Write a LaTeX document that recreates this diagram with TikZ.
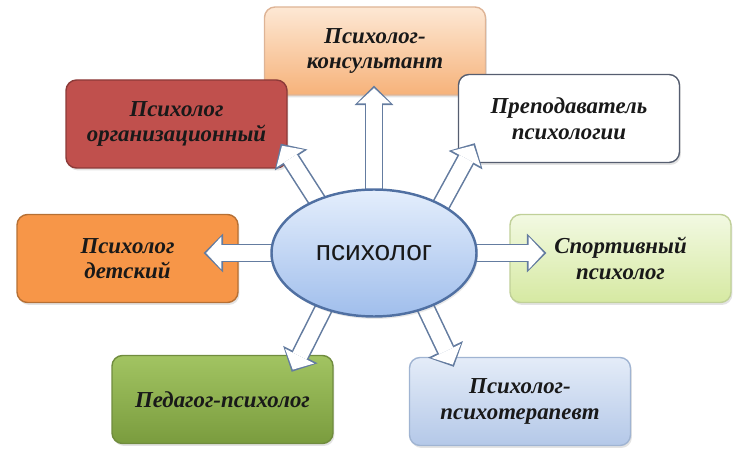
\documentclass[tikz,border=0pt]{standalone}
\usepackage{fontspec}
\setmainfont{Liberation Serif}
\newfontfamily\ellfont{Liberation Sans}
\usepackage{tikz}
\usetikzlibrary{shapes.geometric,arrows.meta,shadows,calc}

\definecolor{konsoben}{RGB}{253,232,212}
\definecolor{konsunten}{RGB}{246,178,122}
\definecolor{konsrand}{RGB}{222,180,150}
\definecolor{orgfill}{RGB}{192,80,77}
\definecolor{orgrand}{RGB}{140,58,56}
\definecolor{preprand}{RGB}{86,94,112}
\definecolor{detfill}{RGB}{247,150,72}
\definecolor{detrand}{RGB}{182,112,52}
\definecolor{sportoben}{RGB}{242,249,226}
\definecolor{sportunten}{RGB}{214,233,162}
\definecolor{sportrand}{RGB}{192,208,152}
\definecolor{pedoben}{RGB}{162,196,98}
\definecolor{pedunten}{RGB}{122,156,62}
\definecolor{pedrand}{RGB}{112,140,62}
\definecolor{thoben}{RGB}{228,236,248}
\definecolor{thunten}{RGB}{180,200,232}
\definecolor{thrand}{RGB}{160,180,210}
\definecolor{elloben}{RGB}{228,238,252}
\definecolor{ellunten}{RGB}{160,190,236}
\definecolor{ellrand}{RGB}{80,112,162}
\definecolor{pilrand}{RGB}{100,124,160}

\pgfdeclarelayer{front}
\pgfsetlayers{main,front}

\begin{document}
\begin{tikzpicture}[node distance=2cm]
    \tikzstyle{every node}=[font=\bfseries\itshape\fontsize{13}{14.5}\selectfont,align=center,text=black!90];
    \tikzstyle{box}=[rectangle,rounded corners=6pt,minimum width=4.42cm,minimum height=1.76cm,line width=0.8pt,
        drop shadow={opacity=0.22,shadow xshift=0.8pt,shadow yshift=-1.4pt}];
    \tikzstyle{pil}=[line width=8.8pt,draw=white,shorten <=-8pt,shorten >=1.4pt,
        -{Triangle[length=8.6pt,width=18.5pt,line width=0pt]},
        preaction={draw=pilrand,line width=10.6pt,shorten >=0pt,-{Triangle[length=11pt,width=22pt,line width=0pt]}}];

    \useasboundingbox (0,0) rectangle (15,9.06);

    \begin{pgfonlayer}{front}
    \node[ellipse,draw=ellrand,line width=1.4pt,top color=elloben,bottom color=ellunten,
          minimum width=4.1cm,minimum height=2.54cm,font=\ellfont\fontsize{16}{18}\selectfont,
          drop shadow={opacity=0.18,shadow xshift=0.8pt,shadow yshift=-1.4pt}] (psy) at (7.48,4.00) {психолог};
    \end{pgfonlayer}

    \node[box,draw=konsrand,top color=konsoben,bottom color=konsunten] (kons) [above of=psy,node distance=4.04cm,xshift=0.02cm] {Психолог-\\консультант};
    \node[box,draw=detrand,fill=detfill] (det) [left of=psy,node distance=4.93cm,yshift=-0.11cm] {Психолог\\детский};
    \node[box,draw=sportrand,top color=sportoben,bottom color=sportunten] (sport) [right of=psy,node distance=4.93cm,yshift=-0.11cm] {Спортивный\\психолог};
    \node[box,draw=orgrand,fill=orgfill] (org) [above of=det,node distance=2.69cm,xshift=0.98cm] {Психолог\\организационный};
    \node[box,draw=preprand,fill=white] (prep) [above of=sport,node distance=2.80cm,xshift=-1.03cm] {Преподаватель\\психологии};
    \node[box,draw=pedrand,top color=pedoben,bottom color=pedunten] (ped) [below of=det,node distance=2.82cm,xshift=1.9cm] {Педагог-психолог};
    \node[box,draw=thrand,top color=thoben,bottom color=thunten] (psyth) [below of=sport,node distance=2.86cm,xshift=-2.01cm] {Психолог-\\психотерапевт};

    \draw[pil] (psy.north) -- ($(psy.north |- kons.south)+(0,0.2)$);
    \draw[pil] (psy.137) -- ($(org.south east)+(-0.14,0.5)$);
    \draw[pil] (psy.36) -- ($(prep.south west)+(0.34,0.4)$);
    \draw[pil] (psy.west) -- ($(psy.west -| det.east)+(-0.7,0)$);
    \draw[pil] (psy.east) -- ($(psy.east -| sport.west)+(0.74,0)$);
    \draw[pil] (psy.228) -- ($(ped.north east)+(-0.84,-0.34)$);
    \draw[pil] (psy.313) -- ($(psyth.north west)+(0.9,-0.2)$);

\end{tikzpicture}
\end{document}
